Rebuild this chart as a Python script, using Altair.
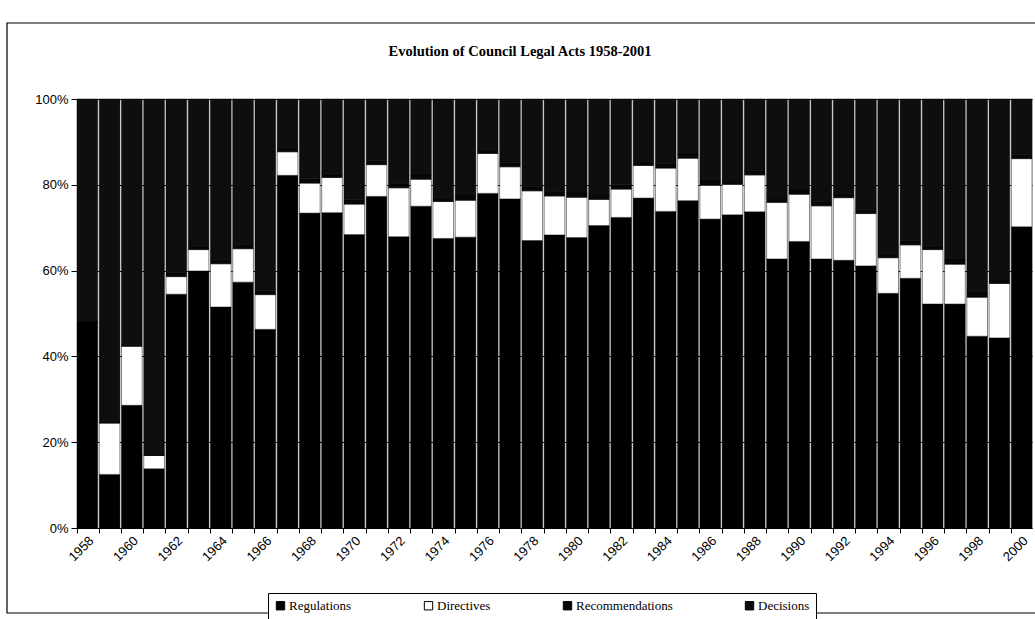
import altair as alt
import pandas as pd

years = list(range(1958, 2001))
label_years = list(range(1958, 2001, 2))

types = ["Regulations", "Directives", "Recommendations", "Decisions"]
colors = ["#000000", "#ffffff", "#070707", "#0e0e0e"]

regulations = [48.0, 12.5, 28.6, 13.8, 54.5, 59.9, 51.5, 57.3, 46.3, 82.2,
               73.4, 73.5, 68.4, 77.3, 67.9, 75.0, 67.5, 67.8, 78.0, 76.7,
               67.0, 68.3, 67.7, 70.5, 72.4, 76.9, 73.8, 76.3, 72.0, 73.0,
               73.7, 62.7, 66.8, 62.7, 62.4, 61.1, 54.7, 58.2, 52.2, 52.2,
               44.7, 44.3, 70.2]
directives = [0.0, 12.0, 13.8, 3.1, 4.1, 5.0, 10.1, 7.8, 8.1, 5.5,
              7.0, 8.2, 7.1, 7.4, 11.4, 6.3, 8.6, 8.6, 9.3, 7.5,
              11.6, 9.1, 9.4, 6.1, 6.6, 7.6, 10.1, 9.9, 7.9, 7.1,
              8.6, 13.2, 11.0, 12.4, 14.6, 12.2, 8.3, 7.8, 12.7, 9.3,
              9.1, 12.7, 15.9]
recommendations = [0, 0, 0, 0, 1, 1, 1, 1, 1, 1,
                   1, 1, 1, 1, 1, 1, 1, 1, 1, 1,
                   1, 1, 1, 1, 1, 1, 1, 1, 1, 1,
                   1, 1, 1, 1, 1, 1, 1, 1, 1, 1,
                   1, 1, 1]
decisions = [52.0, 75.5, 57.6, 83.1, 40.4, 34.1, 37.4, 33.9, 44.6, 11.3,
             18.6, 17.3, 23.5, 14.3, 19.7, 17.7, 22.9, 22.6, 11.7, 14.8,
             20.4, 21.6, 21.9, 22.4, 20.0, 14.5, 15.1, 12.8, 19.1, 18.9,
             16.7, 23.1, 21.2, 23.9, 22.0, 25.7, 36.0, 33.0, 34.1, 37.5,
             45.2, 42.0, 12.9]

title_text = "Evolution of Council Legal Acts 1958-2001"

series = [regulations, directives, recommendations, decisions]
rows = []
for k, (name, vals) in enumerate(zip(types, series)):
    for y, v in zip(years, vals):
        rows.append({"year": y, "type": name, "value": v, "ord": k})
df = pd.DataFrame(rows)

FONT_SANS = "Liberation Sans"
FONT_SERIF = "Liberation Serif"

xscale = alt.Scale(paddingInner=0.07, paddingOuter=0.0)

bars = alt.Chart(df).mark_bar(stroke="black", strokeWidth=0.5).encode(
    x=alt.X("year:O", scale=xscale, title=None,
            axis=alt.Axis(values=label_years, labelAngle=-45, labelAlign="right",
                          labelBaseline="top", ticks=False, domain=True,
                          domainColor="black", labelFont=FONT_SANS, labelFontSize=13,
                          labelColor="black", labelPadding=6, orient="bottom")),
    y=alt.Y("value:Q", stack="normalize", title=None,
            scale=alt.Scale(domain=[0, 1]),
            axis=alt.Axis(format="%", values=[0, 0.2, 0.4, 0.6, 0.8, 1.0],
                          tickSize=6, tickColor="black", domain=True, domainColor="black",
                          grid=True, gridColor="black", gridOpacity=1,
                          labelFont=FONT_SANS, labelFontSize=13, labelColor="black",
                          labelPadding=3)),
    color=alt.Color("type:N", scale=alt.Scale(domain=types, range=colors),
                    legend=alt.Legend(title=None, orient="none", legendX=191, legendY=494,
                                      direction="horizontal", columns=4,
                                      symbolType="square", symbolSize=70,
                                      symbolStrokeColor="black", symbolStrokeWidth=1,
                                      labelFont=FONT_SERIF, labelFontSize=13,
                                      labelColor="black", columnPadding=70,
                                      strokeColor="black", fillColor="white",
                                      padding=6, labelOffset=2)),
    order=alt.Order("ord:Q"),
)

ticks = alt.Chart(df).mark_bar(opacity=0).encode(
    x=alt.X("year:O", scale=xscale, title=None,
            axis=alt.Axis(labels=False, ticks=True, tickSize=5, tickColor="black",
                          bandPosition=0, domain=False, grid=False, orient="bottom")),
    y=alt.Y("value:Q", stack="normalize", axis=None),
)

deco = alt.Chart(pd.DataFrame({"t": [title_text]}))

frame = deco.mark_rect(fill=None, stroke="black", strokeWidth=1.2).encode(
    x=alt.value(-70), x2=alt.value(990), y=alt.value(-76), y2=alt.value(514)
)

title = deco.mark_text(font=FONT_SERIF, fontSize=14.5, fontWeight="bold", color="black",
                       align="center", baseline="alphabetic").encode(
    text="t:N", x=alt.value(443), y=alt.value(-43)
)

chart = alt.layer(frame, title, bars, ticks).resolve_axis(
    x="independent", y="independent"
).properties(
    width=955, height=429,
    padding={"left": 77, "top": 99, "right": 3, "bottom": 91},
    autosize=alt.AutoSizeParams(type="none"),
).configure_view(stroke=None).configure(background="white")

chart.save("out.html", embed_options={"renderer": "svg", "actions": False})
